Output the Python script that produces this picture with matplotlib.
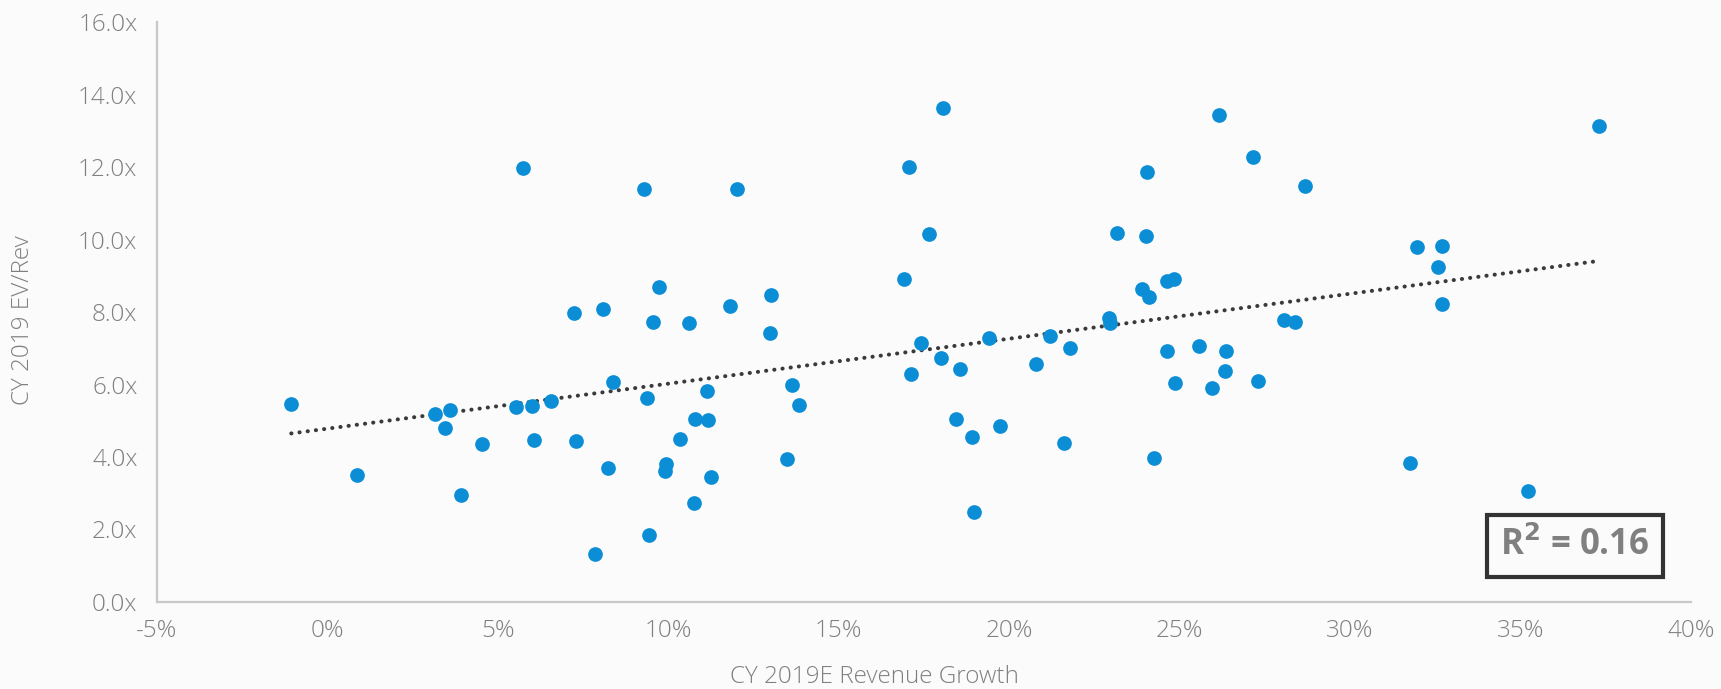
import numpy as np
import matplotlib
matplotlib.use("Agg")
import matplotlib.pyplot as plt
from matplotlib.ticker import FuncFormatter

# revenue growth (%) and EV/Rev multiple
growth = [
    -1.06, 0.88, 3.17, 3.59, 3.46, 4.52, 3.92, 5.54, 6.01, 6.56,
    6.07, 7.30, 8.39, 8.24, 7.86, 9.36, 9.42, 9.93, 9.91, 10.35,
    10.79, 11.17, 11.14, 10.76, 11.26, 13.63, 13.82, 13.49, 17.13, 17.41,
    18.01, 18.56, 18.45, 18.92, 18.96, 5.75, 9.30, 12.00, 18.07, 17.07,
    17.66, 16.90, 9.73, 7.24, 8.09, 9.56, 10.61, 11.81, 13.02, 12.99,
    26.16, 27.16, 28.68, 24.05, 23.17, 24.02, 23.90, 24.11, 24.62, 24.84,
    22.93, 22.97, 19.42, 21.20, 21.78, 28.06, 28.37, 31.97, 32.69, 32.59,
    32.69, 20.79, 24.63, 25.57, 26.36, 26.34, 24.87, 25.96, 27.30, 19.74,
    21.61, 24.25, 31.77, 35.22, 37.31,
]
ev_rev = [
    5.45, 3.50, 5.19, 5.31, 4.79, 4.35, 2.94, 5.38, 5.40, 5.54,
    4.46, 4.44, 6.06, 3.69, 1.32, 5.62, 1.84, 3.81, 3.61, 4.49,
    5.04, 5.01, 5.81, 2.72, 3.44, 5.98, 5.43, 3.94, 6.28, 7.14,
    6.74, 6.43, 5.04, 4.54, 2.47, 11.96, 11.40, 11.40, 13.62, 11.99,
    10.14, 8.90, 8.68, 7.96, 8.07, 7.72, 7.69, 8.16, 8.46, 7.41,
    13.43, 12.29, 11.47, 11.85, 10.17, 10.09, 8.63, 8.41, 8.86, 8.91,
    7.84, 7.69, 7.27, 7.34, 7.00, 7.78, 7.72, 9.79, 9.81, 9.24,
    8.22, 6.56, 6.92, 7.05, 6.92, 6.36, 6.03, 5.90, 6.09, 4.85,
    4.38, 3.96, 3.83, 3.07, 13.12,
]
r2_text = r"R$^{\mathbf{2}}$ = 0.16"

x = np.array(growth)
y = np.array(ev_rev)
slope, intercept = np.polyfit(x, y, 1)
xt = np.array([x.min(), x.max()])

plt.rcParams["font.family"] = ["Open Sans", "DejaVu Sans"]
grey = "#808080"

fig = plt.figure(figsize=(17.21, 6.89), dpi=100)
fig.patch.set_facecolor("#fbfbfb")
ax = fig.add_axes([0.0912, 0.1263, 0.8914, 0.8417])
ax.set_facecolor("none")

ax.scatter(x, y, s=112, color="#0B8ED6", linewidths=0, zorder=3)
ax.plot(xt, slope * xt + intercept, color="#3a3a3a", lw=2.9,
        linestyle=(0, (0.05, 2.0)), dash_capstyle="round", zorder=2)

ax.set_xlim(-5, 40)
ax.set_ylim(0, 16)
ax.set_xticks(np.arange(-5, 41, 5))
ax.set_yticks(np.arange(0, 17, 2))
ax.xaxis.set_major_formatter(FuncFormatter(lambda v, p: f"{v:.0f}%"))
ax.yaxis.set_major_formatter(FuncFormatter(lambda v, p: f"{v:.1f}x"))
ax.tick_params(length=0, labelsize=17.5, colors=grey, pad=14)
ax.tick_params(axis="x", pad=12)
for lab in ax.get_xticklabels() + ax.get_yticklabels():
    lab.set_fontweight("light")
for s in ["top", "right"]:
    ax.spines[s].set_visible(False)
for s in ["left", "bottom"]:
    ax.spines[s].set_color("#c8c8c8")
    ax.spines[s].set_linewidth(1.6)

fig.text(0.0135, 0.535, "CY 2019 EV/Rev", rotation=90, ha="center",
         va="center", fontsize=17.5, color=grey, fontweight="light")
fig.text(0.508, 0.017, "CY 2019E Revenue Growth", ha="center",
         va="center", fontsize=17.5, color=grey, fontweight="light")

ax.text(0.9244, 0.0966, r2_text, transform=ax.transAxes, ha="center",
        va="center", fontsize=25, fontweight="bold", color=grey,
        bbox=dict(boxstyle="square,pad=0.38", facecolor="none",
                  edgecolor="#333333", linewidth=3))

fig.savefig("out.png", dpi=100, facecolor=fig.get_facecolor())
